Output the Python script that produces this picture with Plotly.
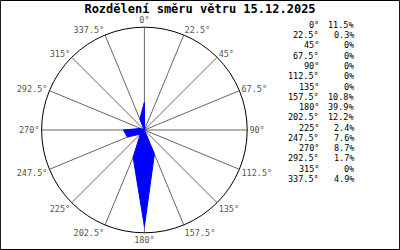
import plotly.graph_objects as go

title = "Rozdělení směru větru 15.12.2025"
directions = [0, 22.5, 45, 67.5, 90, 112.5, 135, 157.5, 180, 202.5, 225, 247.5, 270, 292.5, 315, 337.5]
dir_labels = ["0°", "22.5°", "45°", "67.5°", "90°", "112.5°", "135°", "157.5°",
              "180°", "202.5°", "225°", "247.5°", "270°", "292.5°", "315°", "337.5°"]
percent = [11.5, 0.3, 0, 0, 0, 0, 0, 10.8, 39.9, 12.2, 2.4, 7.6, 8.7, 1.7, 0, 4.9]
pct_labels = ["11.5%", "0.3%", "0%", "0%", "0%", "0%", "0%", "10.8%",
              "39.9%", "12.2%", "2.4%", "7.6%", "8.7%", "1.7%", "0%", "4.9%"]

MONO = "DejaVu Sans Mono"

fig = go.Figure()
fig.add_trace(go.Scatterpolar(
    r=percent + [percent[0]],
    theta=directions + [directions[0]],
    mode="lines",
    fill="toself",
    fillcolor="#0000ff",
    line=dict(color="#0000ff", width=1),
    hoverinfo="skip",
))

fig.update_layout(
    width=400, height=250,
    margin=dict(l=0, r=0, t=0, b=0),
    paper_bgcolor="white",
    plot_bgcolor="white",
    showlegend=False,
    title=dict(text="<b>" + title + "</b>", x=0.5, xanchor="center", y=0.966, yanchor="middle",
               font=dict(family=MONO, size=12, color="black")),
    polar=dict(
        domain=dict(x=[0.104, 0.618], y=[0.068, 0.892]),
        bgcolor="white",
        radialaxis=dict(visible=False, range=[0, 42.5], showgrid=False),
        angularaxis=dict(
            rotation=90, direction="clockwise",
            tickmode="array", tickvals=directions, ticktext=dir_labels,
            ticks="",
            showgrid=True, gridcolor="#666666", gridwidth=1,
            showline=True, linecolor="black", linewidth=1,
            tickfont=dict(family=MONO, size=8.5, color="#555555"),
        ),
    ),
    shapes=[dict(type="rect", xref="paper", yref="paper", x0=0.001, y0=0.002, x1=0.999, y1=0.998,
                 line=dict(color="black", width=1))],
)

y0 = 25
step = 10.25
for i, (dl, pl) in enumerate(zip(dir_labels, pct_labels)):
    y = y0 + i * step
    fig.add_annotation(x=321 / 400, y=1 - y / 250, xref="paper", yref="paper",
                       text=dl, showarrow=False, xanchor="right", yanchor="middle",
                       font=dict(family=MONO, size=8.5, color="black"))
    fig.add_annotation(x=356 / 400, y=1 - y / 250, xref="paper", yref="paper",
                       text=pl, showarrow=False, xanchor="right", yanchor="middle",
                       font=dict(family=MONO, size=8.5, color="black"))

fig.write_html("out.html")
